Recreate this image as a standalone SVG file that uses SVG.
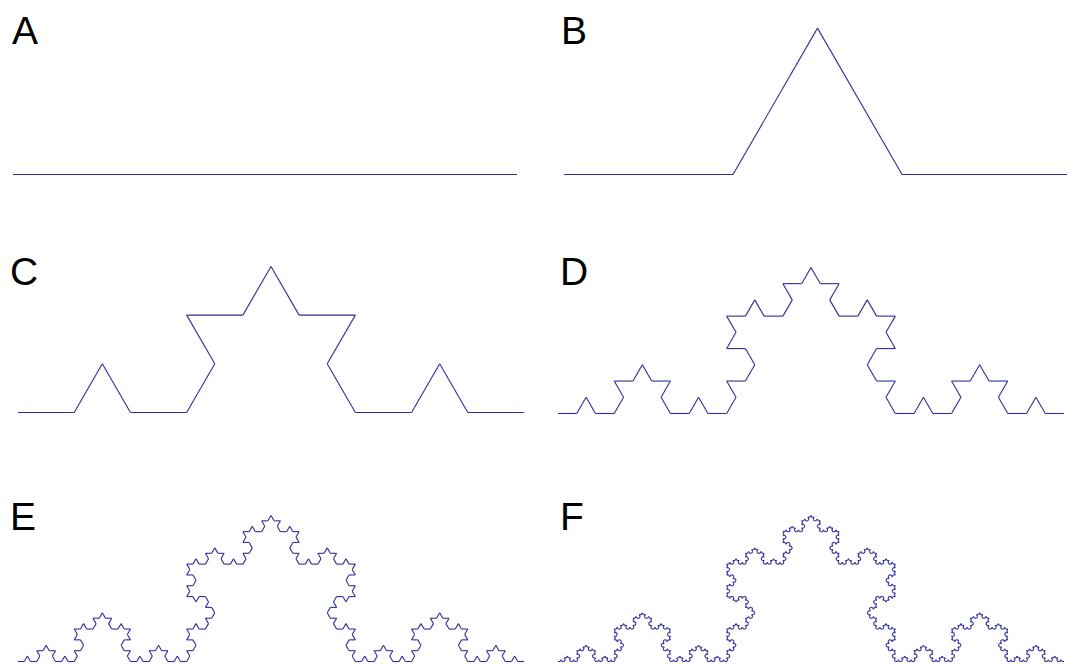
<svg xmlns="http://www.w3.org/2000/svg" xmlns:xlink="http://www.w3.org/1999/xlink" width="1067" height="666" viewBox="0 0 1067 666">
<style>
.lbl{font-family:"Liberation Sans",Arial,sans-serif;font-size:39px;fill:#000;}
</style>
<defs>
<g id="k0"><line x1="0" y1="0" x2="300" y2="0" stroke="#2e2e9c" stroke-width="1.1" vector-effect="non-scaling-stroke" fill="none"/></g>
<g id="k1"><use href="#k0" transform="scale(0.3333333)"/><use href="#k0" transform="translate(100,0) rotate(-60) scale(0.3333333)"/><use href="#k0" transform="translate(150,-86.60254) rotate(60) scale(0.3333333)"/><use href="#k0" transform="translate(200,0) scale(0.3333333)"/></g>
<g id="k2"><use href="#k1" transform="scale(0.3333333)"/><use href="#k1" transform="translate(100,0) rotate(-60) scale(0.3333333)"/><use href="#k1" transform="translate(150,-86.60254) rotate(60) scale(0.3333333)"/><use href="#k1" transform="translate(200,0) scale(0.3333333)"/></g>
<g id="k3"><use href="#k2" transform="scale(0.3333333)"/><use href="#k2" transform="translate(100,0) rotate(-60) scale(0.3333333)"/><use href="#k2" transform="translate(150,-86.60254) rotate(60) scale(0.3333333)"/><use href="#k2" transform="translate(200,0) scale(0.3333333)"/></g>
<g id="k4"><use href="#k3" transform="scale(0.3333333)"/><use href="#k3" transform="translate(100,0) rotate(-60) scale(0.3333333)"/><use href="#k3" transform="translate(150,-86.60254) rotate(60) scale(0.3333333)"/><use href="#k3" transform="translate(200,0) scale(0.3333333)"/></g>
<g id="k5"><use href="#k4" transform="scale(0.3333333)"/><use href="#k4" transform="translate(100,0) rotate(-60) scale(0.3333333)"/><use href="#k4" transform="translate(150,-86.60254) rotate(60) scale(0.3333333)"/><use href="#k4" transform="translate(200,0) scale(0.3333333)"/></g>
</defs>
<rect width="1067" height="666" fill="#fff"/>
<g id="panelA"><text class="lbl" x="12" y="44">A</text><use href="#k0" transform="translate(13,174.5) scale(1.68)"/></g>
<g id="panelB"><text class="lbl" x="561" y="44">B</text><use href="#k1" transform="translate(564,174.5) scale(1.69)"/></g>
<g id="panelC"><text class="lbl" x="10" y="285">C</text><use href="#k2" transform="translate(18,412.5) scale(1.6867)"/></g>
<g id="panelD"><text class="lbl" x="560" y="285">D</text><use href="#k3" transform="translate(558,413.5) scale(1.6867)"/></g>
<g id="panelE"><text class="lbl" x="10" y="530">E</text><use href="#k4" transform="translate(18,661.5) scale(1.6867)"/></g>
<g id="panelF"><text class="lbl" x="560" y="530">F</text><use href="#k5" transform="translate(558,661.5) scale(1.6867)"/></g>
</svg>
